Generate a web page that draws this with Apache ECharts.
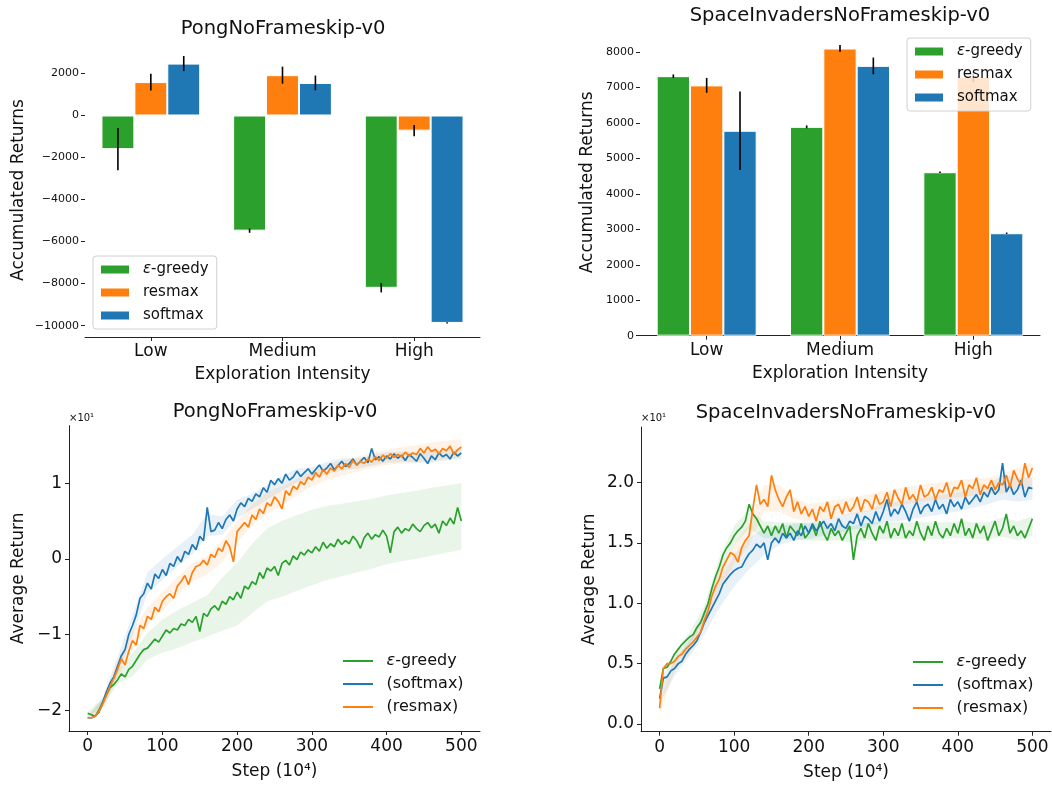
<!DOCTYPE html>
<html>
<head>
<meta charset="utf-8">
<script src="https://cdn.jsdelivr.net/npm/echarts@6.0.0/dist/echarts.min.js"></script>
<style>
  html, body { margin: 0; padding: 0; background: #fff; }
  #chart { width: 1052px; height: 786px; }
</style>
</head>
<body>
<div id="chart"></div>
<script>
// ---- bar charts (accumulated returns) ----
const categories = ["Low", "Medium", "High"];

const pongBarGreedy = [-1600, -5480, -8200];
const pongBarGreedyErr = [1010, 100, 220];
const pongBarResmax = [1590, 1920, -720];
const pongBarResmaxErr = [400, 405, 270];
const pongBarSoftmax = [2470, 1550, -9870];
const pongBarSoftmaxErr = [360, 350, 30];

const siBarGreedy = [7320, 5890, 4610];
const siBarGreedyErr = [50, 40, 20];
const siBarResmax = [7060, 8100, 7300];
const siBarResmaxErr = [210, 100, 150];
const siBarSoftmax = [5780, 7610, 2890];
const siBarSoftmaxErr = [1110, 235, 20];

const pongBarTicks = [-10000, -8000, -6000, -4000, -2000, 0, 2000];
const siBarTicks = [0, 1000, 2000, 3000, 4000, 5000, 6000, 7000, 8000];

// ---- learning curves, one value every 5 steps (x10^4) ----
const curveStep = 5;
const pongGreedy = [
  -20.4, -20.6, -20.8, -20.0, -19.0, -18.0, -17.0, -16.6, -16.0, -15.2,
  -15.6, -14.6, -14.2, -13.4, -12.6, -12.0, -11.8, -11.2, -10.6, -11.0,
  -10.2, -9.4, -9.8, -9.2, -9.4, -8.6, -8.8, -8.0, -8.4, -7.6,
  -9.6, -7.2, -7.6, -6.6, -6.2, -6.8, -5.6, -6.0, -5.0, -5.4,
  -4.4, -5.2, -3.6, -4.0, -3.0, -3.4, -1.8, -2.6, -1.2, -1.6,
  -1.0, -2.2, -0.6, -0.2, -0.8, 0.4, -0.1, 0.9, 0.5, 1.2,
  0.8, 1.6, 1.0, 2.2, 1.4, 2.0, 1.6, 2.6, 1.9, 2.4,
  2.0, 3.0, 2.4, 1.4, 2.8, 3.4, 2.6, 3.2, 2.9, 3.8,
  3.0, 0.8, 3.6, 4.2, 3.4, 4.0, 3.7, 4.6, 4.0, 3.6,
  4.4, 4.8, 4.1, 4.6, 3.4, 5.0, 4.4, 5.4, 4.6, 6.8,
  5.0
];
const pongSoftmax = [
  -21.0, -21.0, -20.8, -20.3, -19.0, -17.6, -16.4, -15.6, -14.2, -12.8,
  -12.0, -10.0, -8.8, -7.4, -5.2, -4.6, -3.2, -4.0, -2.0, -2.6,
  -1.4, -2.2, -0.6, -1.0, 0.3, -0.4, 1.0, 0.6, 1.9, 1.2,
  3.0, 2.4, 6.8, 3.6, 3.8, 4.8, 4.0, 5.2, 5.8, 5.0,
  6.6, 7.4, 6.9, 8.0, 7.6, 8.6, 8.2, 9.4, 8.8, 10.4,
  9.8, 10.6, 10.0, 11.2, 10.4, 10.8, 11.6, 10.9, 11.4, 11.9,
  11.2, 11.8, 12.4, 11.6, 12.0, 12.6, 11.8, 12.3, 12.9, 12.2,
  12.6, 13.2, 12.4, 12.9, 13.4, 12.7, 14.6, 13.1, 13.5, 12.9,
  13.6, 13.2, 13.9, 13.3, 13.7, 13.0, 13.8, 13.4, 12.9, 13.9,
  13.3, 12.6, 13.6, 13.1, 14.0, 13.5, 13.8, 13.2, 14.1, 13.6,
  14.0
];
const pongResmax = [
  -21.0, -21.0, -20.8, -20.2, -19.2, -18.0, -16.8, -15.8, -14.6, -13.2,
  -14.0, -12.2, -10.8, -11.4, -8.8, -9.2, -7.6, -8.0, -6.4, -7.0,
  -5.6, -5.0, -4.6, -5.2, -3.6, -3.0, -2.2, -3.4, -1.8, -1.0,
  -0.8, -0.2, -0.8, 0.6, 0.2, 1.4, 1.0, 2.4, 1.6, -0.4,
  3.6, 4.2, 4.8, 4.2, 5.8, 5.2, 6.6, 6.0, 7.4, 7.0,
  8.2, 7.6, 6.6, 9.0, 8.4, 9.6, 9.2, 10.2, 9.8, 10.8,
  10.4, 11.4, 10.8, 11.8, 11.2, 12.0, 11.6, 12.4, 11.9, 12.6,
  12.1, 13.0, 12.4, 12.9, 12.6, 13.2, 12.8, 13.5, 13.0, 13.7,
  13.3, 13.9, 13.4, 13.8, 13.5, 14.1, 13.6, 14.0, 13.8, 14.6,
  14.0, 14.8, 14.2, 14.5, 13.9, 14.6, 14.3, 14.9, 13.8, 14.4,
  14.8
];

const siGreedy = [
  2.9, 4.6, 4.7, 5.2, 5.8, 6.2, 6.6, 6.9, 7.2, 7.4,
  8.0, 8.4, 9.2, 10.0, 11.2, 12.2, 13.0, 14.0, 14.6, 15.0,
  15.6, 16.0, 16.3, 16.8, 18.2, 17.4, 17.0, 16.4, 15.8, 16.4,
  15.6, 16.4, 15.8, 16.6, 15.4, 16.4, 16.0, 15.6, 16.6, 15.4,
  15.8, 16.4, 15.6, 16.8, 15.8, 15.2, 16.2, 15.6, 16.0, 15.2,
  15.8, 16.4, 13.6, 15.6, 16.2, 15.4, 16.6, 15.8, 15.2, 16.4,
  15.8, 16.8, 15.4, 16.2, 15.6, 16.6, 15.4, 16.0, 15.6, 16.8,
  15.8, 15.2, 16.4, 15.6, 16.8, 15.8, 15.4, 16.2, 15.6, 16.6,
  15.8, 17.0, 15.6, 16.2, 15.4, 16.6, 15.8, 16.4, 15.2, 16.0,
  16.8, 15.6, 16.2, 17.4, 15.8, 16.4, 15.6, 16.0, 15.4, 16.2,
  17.0
];
const siSoftmax = [
  2.1, 3.8, 3.9, 4.4, 4.6, 5.0, 5.2, 5.8, 6.2, 6.5,
  6.9, 7.6, 8.4, 9.0, 9.6, 10.2, 10.8, 11.6, 12.0, 12.4,
  12.7, 12.9, 13.0, 13.6, 14.1, 14.4, 14.9, 14.6, 15.0, 13.6,
  15.0, 15.4, 15.0, 15.8, 15.4, 15.8, 15.2, 16.0, 15.6, 16.4,
  15.8, 16.6, 16.0, 16.4, 16.8, 16.2, 16.6, 16.0, 17.0, 16.4,
  16.2, 16.8, 16.6, 17.4, 16.4, 17.2, 17.0, 16.6, 17.6, 16.8,
  17.6, 18.6, 17.2, 17.8, 17.4, 18.2, 17.6, 16.8, 17.8, 18.4,
  17.4, 18.0, 18.2, 17.6, 18.6, 17.8, 18.2, 17.4, 18.6, 18.0,
  18.4, 17.8, 18.8, 18.2, 18.6, 19.0, 18.4, 19.2, 18.8, 19.6,
  19.0, 19.4, 21.6, 19.2, 19.8, 19.0, 19.4, 20.2, 18.8, 19.6,
  19.5
];
const siResmax = [
  1.3, 4.6, 5.0, 5.0, 5.2, 5.6, 5.8, 6.2, 6.5, 6.8,
  7.2, 7.6, 8.6, 9.4, 10.6, 11.4, 12.0, 13.0, 13.6, 14.2,
  14.0, 13.4, 14.6, 15.2, 15.6, 17.8, 19.8, 18.2, 18.6, 18.0,
  20.6, 19.4, 18.6, 18.0, 18.8, 19.4, 17.6, 18.4, 17.4, 18.0,
  17.2, 17.8, 16.8, 18.0, 17.6, 18.4, 17.0, 18.0, 18.2, 17.4,
  18.4, 17.6, 18.0, 18.8, 17.6, 18.6, 18.4, 17.8, 19.0, 18.2,
  18.4, 19.2, 18.0, 19.4, 18.7, 18.2, 19.6, 18.6, 19.0, 18.4,
  19.8, 18.8, 19.0, 19.6, 18.6, 19.4, 19.2, 20.0, 18.8, 19.6,
  19.5, 20.2, 18.8, 19.8, 19.5, 20.4, 19.0, 19.8, 19.5, 20.2,
  19.4, 20.0, 19.8, 20.6, 19.6, 21.0, 20.3, 19.8, 21.6, 20.4,
  21.2
];

// ---- shaded bands, one value every 20 steps ----
const bandStep = 20;
const pongGreedyLow = [-20.8, -19.6, -16.5, -15.5, -13.3, -12.4, -11.8, -11.0, -10.3, -9.5, -8.8, -7.2, -5.6, -5.0, -4.2, -3.5, -2.8, -2.3, -1.8, -1.3, -0.7, -0.3, 0.0, 0.4, 0.8, 1.2];
const pongGreedyHigh = [-20.2, -18.4, -14.8, -12.5, -9.8, -8.0, -6.8, -5.8, -4.8, -2.5, -0.5, 2.0, 4.0, 5.0, 5.8, 6.5, 7.0, 7.3, 7.6, 7.9, 8.4, 8.7, 9.0, 9.4, 9.7, 10.0];
const pongSoftmaxLow = [-21.2, -19.6, -15.4, -10.2, -4.6, -2.8, -1.0, 0.6, 3.0, 3.2, 5.4, 6.6, 7.8, 9.0, 10.1, 10.5, 11.2, 11.7, 11.9, 12.3, 12.7, 12.8, 12.7, 12.7, 13.0, 13.2];
const pongSoftmaxHigh = [-20.8, -18.4, -13.0, -7.4, -1.8, 0.0, 1.6, 3.2, 6.0, 5.6, 7.8, 8.6, 9.8, 11.0, 11.9, 12.1, 12.8, 13.3, 13.3, 13.7, 14.1, 14.2, 14.1, 14.3, 14.4, 14.6];
const pongResmaxLow = [-21.2, -19.8, -15.8, -12.0, -8.8, -6.8, -4.8, -3.0, -2.0, -0.4, 2.2, 4.4, 6.0, 7.0, 8.4, 9.6, 10.4, 11.0, 11.5, 12.0, 12.4, 12.6, 12.8, 13.0, 13.2, 13.4];
const pongResmaxHigh = [-20.8, -18.6, -13.4, -9.6, -6.4, -4.4, -2.4, -0.6, 0.4, 2.4, 5.0, 7.2, 8.8, 9.6, 10.6, 11.6, 12.4, 13.0, 13.5, 14.0, 14.4, 14.8, 15.0, 15.4, 15.6, 15.8];

const siGreedyLow = [2.5, 5.0, 6.6, 8.6, 12.2, 14.8, 16.2, 15.4, 15.3, 15.3, 15.2, 15.2, 15.2, 15.0, 15.3, 15.3, 15.3, 15.3, 15.3, 15.3, 15.4, 15.3, 15.3, 15.5, 15.2, 15.6];
const siGreedyHigh = [3.3, 5.8, 7.6, 9.8, 13.8, 16.4, 17.8, 16.8, 16.7, 16.7, 16.6, 16.6, 16.6, 16.4, 16.7, 16.7, 16.7, 16.7, 16.7, 16.7, 16.8, 16.7, 16.7, 17.1, 16.8, 17.2];
const siSoftmaxLow = [1.7, 4.0, 5.6, 7.4, 9.6, 11.4, 12.8, 14.0, 14.8, 15.2, 15.3, 15.6, 15.8, 16.1, 16.3, 16.7, 16.8, 17.0, 17.2, 17.4, 17.6, 17.9, 18.2, 18.6, 18.4, 18.6];
const siSoftmaxHigh = [2.5, 5.2, 7.0, 9.4, 12.0, 14.0, 15.4, 16.2, 16.4, 16.6, 16.7, 17.0, 17.2, 17.5, 17.7, 18.3, 18.4, 18.6, 18.8, 19.0, 19.2, 19.5, 19.8, 20.6, 20.4, 20.4];
const siResmaxLow = [0.8, 4.4, 5.8, 8.0, 11.2, 13.2, 14.8, 17.6, 17.6, 17.0, 16.8, 17.0, 17.2, 17.4, 17.6, 17.9, 18.1, 18.3, 18.5, 18.6, 18.8, 18.9, 19.0, 19.1, 19.4, 19.6];
const siResmaxHigh = [1.8, 5.4, 6.8, 9.2, 12.8, 14.8, 16.6, 19.8, 19.8, 18.8, 18.2, 18.4, 18.6, 18.8, 19.0, 19.3, 19.5, 19.7, 19.9, 20.0, 20.2, 20.3, 20.4, 20.7, 21.2, 21.6];

const stepTicks = [0, 100, 200, 300, 400, 500];
const pongCurveTicks = [-20, -10, 0, 10];
const siCurveTicks = [0, 5, 10, 15, 20];

// ---- styling ----
const FONT = "DejaVu Sans";
const INK = "#111";
const GREEN = "#2ca02c";
const ORANGE = "#ff7f0e";
const BLUE = "#1f77b4";

const minus = (s) => String(s).replace("-", "\u2212");
const legendFmt = (name) => name.replace("ε", "{e|ε}");

function toPairs(arr, dx) {
  return arr.map((v, i) => [i * dx, v]);
}

function barSeries(name, values, color, gi) {
  return {
    name: name,
    type: "bar",
    xAxisIndex: gi,
    yAxisIndex: gi,
    data: values,
    barWidth: "25%",
    barGap: "0%",
    itemStyle: { color: color, borderColor: "#fff", borderWidth: 1 },
  };
}

function errorSeries(groups, gi) {
  // groups: [[values, errs], ...] in bar order
  const data = [];
  groups.forEach((g, k) => {
    g[0].forEach((v, c) => data.push([c, v, g[1][c], k]));
  });
  return {
    type: "custom",
    xAxisIndex: gi,
    yAxisIndex: gi,
    z: 3,
    silent: true,
    encode: { x: 0, y: 1 },
    data: data,
    renderItem: function (params, api) {
      const c = api.value(0);
      const v = api.value(1);
      const e = api.value(2);
      const k = api.value(3);
      const band = api.size([1, 0])[0];
      const top = api.coord([c, v + e]);
      const bot = api.coord([c, v - e]);
      const x = top[0] + (k - 1) * band * 0.25;
      return {
        type: "line",
        shape: { x1: x, y1: top[1], x2: x, y2: bot[1] },
        style: { stroke: "#000", lineWidth: 1.6 },
      };
    },
  };
}

// shaded min/max band drawn as one polygon through the axis scales
function bandSeries(lower, upper, color, gi) {
  return {
    type: "custom",
    xAxisIndex: gi,
    yAxisIndex: gi,
    z: 1,
    silent: true,
    clip: true,
    encode: { x: 0, y: [1, 2] },
    data: lower.map((v, i) => [i * bandStep, v, upper[i]]),
    renderItem: function (params, api) {
      if (params.dataIndex !== 0) return null;
      const top = upper.map((v, i) => api.coord([i * bandStep, v]));
      const bottom = lower.map((v, i) => api.coord([i * bandStep, v])).reverse();
      return {
        type: "polygon",
        shape: { points: top.concat(bottom) },
        style: { fill: color, opacity: 0.1 },
      };
    },
  };
}

function curveSeries(name, values, color, gi) {
  return {
    name: name,
    type: "line",
    xAxisIndex: gi,
    yAxisIndex: gi,
    data: toPairs(values, curveStep),
    symbol: "none",
    z: 2,
    lineStyle: { color: color, width: 1.7 },
    itemStyle: { color: color },
  };
}

function barLegend(left, top) {
  return {
    data: ["ε-greedy", "resmax", "softmax"],
    orient: "vertical",
    left: left,
    top: top,
    icon: "rect",
    itemWidth: 30,
    itemHeight: 10,
    itemGap: 8,
    padding: [6, 8, 6, 6],
    backgroundColor: "rgba(255,255,255,0.8)",
    borderColor: "#d0d0d0",
    borderWidth: 1,
    borderRadius: 3,
    formatter: legendFmt,
    textStyle: {
      fontFamily: FONT,
      fontSize: 15,
      lineHeight: 15,
      color: INK,
      padding: [0, 0, 0, 8],
      rich: { e: { fontFamily: FONT, fontSize: 15, fontStyle: "italic", color: INK } },
    },
  };
}

function curveLegend(left, top) {
  return {
    data: ["ε-greedy", "(softmax)", "(resmax)"],
    orient: "vertical",
    left: left,
    top: top,
    icon: "path://M0,0H30V2H0Z",
    itemWidth: 33,
    itemHeight: 2,
    itemGap: 7,
    padding: 0,
    itemStyle: { borderWidth: 0 },
    formatter: legendFmt,
    textStyle: {
      fontFamily: FONT,
      fontSize: 16,
      lineHeight: 16,
      color: INK,
      padding: [0, 0, 0, 7],
      rich: { e: { fontFamily: FONT, fontSize: 16, fontStyle: "italic", color: INK } },
    },
  };
}

const tickStyle = { show: true, inside: false, length: 4, lineStyle: { color: "#222", width: 1 } };
const lineAxis = { show: true, onZero: false, lineStyle: { color: "#222", width: 1 } };
const nameStyle = { fontFamily: FONT, fontSize: 17, color: INK };

function catAxis(gi) {
  return {
    type: "category",
    gridIndex: gi,
    data: categories,
    axisLine: lineAxis,
    axisTick: Object.assign({ alignWithLabel: true }, tickStyle),
    axisLabel: { fontFamily: FONT, fontSize: 17, color: INK, margin: 6 },
    name: "Exploration Intensity",
    nameLocation: "middle",
    nameGap: 29,
    nameTextStyle: nameStyle,
    splitLine: { show: false },
  };
}

function barValueAxis(gi, min, max, ticks, gap) {
  return {
    type: "value",
    gridIndex: gi,
    min: min,
    max: max,
    axisLine: { show: false, onZero: false },
    axisTick: Object.assign({ customValues: ticks }, tickStyle),
    axisLabel: { customValues: ticks, fontFamily: FONT, fontSize: 11, color: INK, margin: 6, formatter: minus },
    splitLine: { show: false },
    name: "Accumulated Returns",
    nameLocation: "middle",
    nameGap: gap,
    nameTextStyle: nameStyle,
  };
}

function stepAxis(gi) {
  return {
    type: "value",
    gridIndex: gi,
    min: -25,
    max: 525,
    axisLine: lineAxis,
    axisTick: Object.assign({ customValues: stepTicks }, tickStyle),
    axisLabel: { customValues: stepTicks, fontFamily: FONT, fontSize: 17, color: INK, margin: 7 },
    splitLine: { show: false },
    name: "Step (10\u2074)",
    nameLocation: "middle",
    nameGap: 32,
    nameTextStyle: nameStyle,
  };
}

function returnAxis(gi, min, max, ticks, fmt, gap) {
  return {
    type: "value",
    gridIndex: gi,
    min: min,
    max: max,
    axisLine: lineAxis,
    axisTick: Object.assign({ customValues: ticks }, tickStyle),
    axisLabel: { customValues: ticks, fontFamily: FONT, fontSize: 17, color: INK, margin: 7, formatter: fmt },
    splitLine: { show: false },
    name: "Average Return",
    nameLocation: "middle",
    nameGap: gap,
    nameTextStyle: nameStyle,
  };
}

function titleText(text, x, y) {
  return {
    type: "text",
    x: x,
    y: y,
    style: { text: text, fontFamily: FONT, fontSize: 19.5, fill: INK, align: "center", verticalAlign: "middle" },
  };
}

function offsetText(x, y) {
  return {
    type: "text",
    x: x,
    y: y,
    style: { text: "\u00d710\u00b9", fontFamily: FONT, fontSize: 10, fill: INK, align: "left", verticalAlign: "middle" },
  };
}

const chart = echarts.init(document.getElementById("chart"), null, { renderer: "canvas" });

const option = {
  animation: false,
  backgroundColor: "#fff",
  grid: [
    { left: 85, top: 43, width: 395, height: 294 },
    { left: 640, top: 29, width: 400, height: 306.7 },
    { left: 69, top: 425.7, width: 411, height: 305.3 },
    { left: 641, top: 427, width: 410, height: 304.7 },
  ],
  xAxis: [catAxis(0), catAxis(1), stepAxis(2), stepAxis(3)],
  yAxis: [
    barValueAxis(0, -10540, 3450, pongBarTicks, 58),
    barValueAxis(1, 0, 8650, siBarTicks, 44),
    returnAxis(2, -22.75, 17.6, pongCurveTicks, (v) => minus(v / 10), 42),
    returnAxis(3, -0.64, 24.6, siCurveTicks, (v) => (v / 10).toFixed(1), 43),
  ],
  legend: [barLegend(93, 256), barLegend(907, 38), curveLegend(343, 653), curveLegend(913, 654)],
  graphic: [
    titleText("PongNoFrameskip-v0", 283, 29),
    titleText("SpaceInvadersNoFrameskip-v0", 840, 16),
    titleText("PongNoFrameskip-v0", 275, 412),
    titleText("SpaceInvadersNoFrameskip-v0", 846, 413),
    offsetText(69, 418),
    offsetText(641, 418),
  ],
  series: [
    barSeries("ε-greedy", pongBarGreedy, GREEN, 0),
    barSeries("resmax", pongBarResmax, ORANGE, 0),
    barSeries("softmax", pongBarSoftmax, BLUE, 0),
    barSeries("ε-greedy", siBarGreedy, GREEN, 1),
    barSeries("resmax", siBarResmax, ORANGE, 1),
    barSeries("softmax", siBarSoftmax, BLUE, 1),
    errorSeries([[pongBarGreedy, pongBarGreedyErr], [pongBarResmax, pongBarResmaxErr], [pongBarSoftmax, pongBarSoftmaxErr]], 0),
    errorSeries([[siBarGreedy, siBarGreedyErr], [siBarResmax, siBarResmaxErr], [siBarSoftmax, siBarSoftmaxErr]], 1),
    bandSeries(pongGreedyLow, pongGreedyHigh, GREEN, 2),
    bandSeries(pongSoftmaxLow, pongSoftmaxHigh, BLUE, 2),
    bandSeries(pongResmaxLow, pongResmaxHigh, ORANGE, 2),
    bandSeries(siGreedyLow, siGreedyHigh, GREEN, 3),
    bandSeries(siSoftmaxLow, siSoftmaxHigh, BLUE, 3),
    bandSeries(siResmaxLow, siResmaxHigh, ORANGE, 3),
    curveSeries("ε-greedy", pongGreedy, GREEN, 2),
    curveSeries("(softmax)", pongSoftmax, BLUE, 2),
    curveSeries("(resmax)", pongResmax, ORANGE, 2),
    curveSeries("ε-greedy", siGreedy, GREEN, 3),
    curveSeries("(softmax)", siSoftmax, BLUE, 3),
    curveSeries("(resmax)", siResmax, ORANGE, 3),
  ],
};

chart.setOption(option);
</script>
</body>
</html>
